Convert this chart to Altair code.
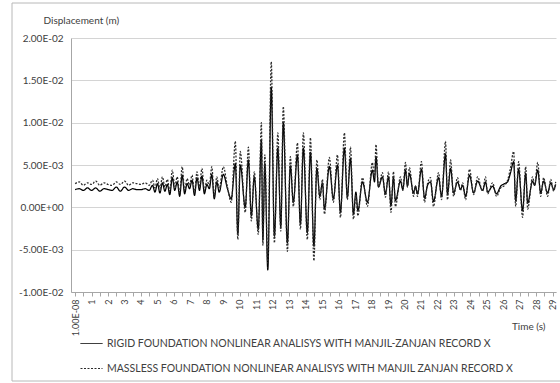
import altair as alt
import pandas as pd

# Time samples (s) shared by both records
time_s = [
    0.00, 0.25, 0.50, 0.75, 1.00, 1.25, 1.50, 1.75, 2.00, 2.25, 2.50, 2.75, 3.00, 3.25, 3.50, 3.75, 4.00, 4.25, 4.50,
    4.70, 4.85, 5.00, 5.15, 5.30, 5.45, 5.60, 5.75, 5.90, 6.05, 6.20, 6.35, 6.50, 6.65, 6.80, 6.95, 7.10, 7.25,
    7.40, 7.55, 7.70, 7.85, 8.00, 8.15, 8.30, 8.45, 8.60, 8.75,
    9.00, 9.25, 9.48, 9.73, 9.88, 10.03, 10.33, 10.52, 10.70, 10.88, 11.12, 11.31, 11.40, 11.52, 11.70, 11.91,
    12.10, 12.31, 12.49, 12.64, 12.89, 13.07, 13.25, 13.50, 13.68, 13.86, 14.10, 14.29, 14.50, 14.68, 14.86,
    15.02, 15.14, 15.44, 15.68, 15.93, 16.11, 16.35, 16.53, 16.72, 16.90, 17.05, 17.17, 17.45, 17.75, 18.05,
    18.18, 18.27, 18.42, 18.66, 18.84, 19.03, 19.18, 19.33, 19.45, 19.76, 19.90, 20.06, 20.18, 20.30, 20.55,
    20.67, 20.79, 21.03, 21.22, 21.40, 21.58, 21.76, 22.07, 22.25, 22.49, 22.61, 22.80, 22.98, 23.22, 23.40,
    23.53, 23.71, 23.95, 24.20, 24.44, 24.74, 24.92, 25.05, 25.35, 25.59, 25.84, 26.08, 26.26, 26.44, 26.63,
    26.75, 26.93, 27.17, 27.36, 27.48, 27.78, 27.90, 28.09, 28.27, 28.45, 28.69, 28.88, 29.06, 29.18,
]

# Displacement in millimetres (x 1e-3 m)
rigid_mm = [
    2.1, 2.2, 2.0, 2.3, 2.0, 2.3, 1.9, 2.2, 2.1, 2.0, 2.4, 1.9, 2.4, 2.0, 2.2, 2.1, 2.1, 2.2, 2.0,
    2.6, 1.8, 2.8, 1.7, 2.9, 1.9, 2.7, 1.5, 3.5, 2.0, 3.0, 1.3, 3.8, 1.6, 2.8, 2.2, 3.2, 1.4,
    3.5, 2.0, 3.7, 1.6, 2.7, 2.2, 3.9, 1.0, 3.0, 1.8,
    3.9, 2.2, 1.0, 5.2, -3.2, 5.0, 0.0, 5.6, -1.0, 3.6, -2.6, 8.0, -3.8, 5.2, -7.4, 14.2,
    -3.4, 7.0, -2.3, 10.0, -4.2, 4.9, 0.6, 6.2, -2.0, 7.0, -3.0, 6.5, -4.6, 4.6, 1.3,
    2.9, -0.2, 4.8, 1.0, 5.0, -0.6, 7.0, 1.2, 5.8, -0.8, 1.8, -0.4, 3.0, 0.6, 4.4,
    3.0, 6.0, 2.4, 3.6, 1.6, 3.6, 0.2, 3.5, 0.8, 3.1, 2.1, 4.4, 2.5, 4.0, 1.7,
    2.5, 1.6, 4.5, 1.1, 2.6, 3.0, 0.7, 3.5, 1.3, 6.3, 1.6, 4.6, 1.7, 3.0, 2.1,
    2.6, 1.3, 3.8, 1.7, 3.1, 2.0, 3.0, 1.8, 2.5, 1.6, 2.5, 2.8, 3.0, 4.1, 5.4,
    0.8, 4.5, -0.4, 4.0, 0.5, 3.1, 2.6, 4.4, 1.7, 3.1, 1.7, 2.9, 2.1, 2.7,
]

massless_mm = [
    2.8, 3.0, 2.6, 2.9, 2.7, 3.1, 2.6, 2.9, 2.7, 2.6, 3.0, 2.7, 3.1, 2.6, 2.9, 2.8, 2.7, 2.9, 2.6,
    3.2, 2.3, 3.4, 2.2, 3.6, 2.4, 3.3, 1.9, 4.4, 2.5, 3.6, 1.6, 4.8, 2.0, 3.4, 2.6, 3.8, 1.7,
    4.2, 2.4, 4.6, 2.0, 3.2, 2.6, 4.8, 1.2, 3.6, 2.2,
    4.8, 2.4, 0.6, 7.8, -3.8, 6.6, -0.6, 7.1, -1.6, 4.2, -3.2, 10.0, -4.5, 6.2, -6.6, 17.2,
    -4.2, 8.8, -2.8, 11.9, -5.2, 6.0, 0.1, 7.6, -2.6, 8.8, -3.8, 8.2, -6.3, 5.6, 0.9,
    3.3, -0.8, 5.9, 0.6, 6.2, -1.2, 8.8, 0.9, 7.1, -1.4, 1.5, -1.0, 3.5, 0.1, 5.3,
    3.5, 7.4, 2.4, 4.1, 1.2, 4.2, -0.6, 4.2, 0.1, 3.6, 2.0, 5.3, 2.4, 4.7, 1.3,
    2.5, 1.3, 5.4, 0.6, 2.8, 3.5, 0.1, 4.1, 0.9, 7.8, 0.9, 5.6, 1.3, 3.5, 2.0,
    2.9, 0.9, 4.5, 1.5, 3.6, 1.9, 3.6, 1.6, 2.9, 1.3, 2.3, 2.6, 3.2, 4.7, 6.6,
    0.1, 5.4, -1.2, 4.8, -0.2, 3.6, 2.6, 5.3, 1.3, 3.5, 1.3, 3.3, 1.9, 3.0,
]

series_names = [
    "RIGID FOUNDATION NONLINEAR ANALISYS WITH MANJIL-ZANJAN RECORD X",
    "MASSLESS FOUNDATION NONLINEAR ANALISYS WITH MANJIL ZANJAN RECORD X",
]

y_tick_values = [-0.01, -0.005, 0.0, 0.005, 0.01, 0.015, 0.02]
y_tick_labels = ["-1.00E-02", "-5.00E-03", "0.00E+00", "5.00E-03", "1.00E-02", "1.50E-02", "2.00E-02"]

x_tick_values = [i * 0.5 for i in range(59)]  # tick every half second, label every second
first_time_label = "1.00E-08"

assert len(time_s) == len(rigid_mm) == len(massless_mm)

rows = []
for name, values in zip(series_names, [rigid_mm, massless_mm]):
    for t, v in zip(time_s, values):
        rows.append({"t": t, "disp": v / 1000.0, "series": name})
df = pd.DataFrame(rows)

# Excel-style scientific labels for the displacement axis
y_expr = "''"
for val, lab in zip(y_tick_values, y_tick_labels):
    y_expr = f"abs(datum.value - ({val})) < 1e-9 ? '{lab}' : ({y_expr})"

x_expr = (
    f"datum.value == 0 ? '{first_time_label}' : "
    "(datum.value % 1 == 0 ? format(datum.value, 'd') : '')"
)

FONT = "Lato"
TEXT = "#404040"
AXIS_GRAY = "#a6a6a6"

lines = alt.Chart(df).mark_line(strokeWidth=1.25, interpolate="monotone").encode(
    x=alt.X(
        "t:Q",
        scale=alt.Scale(domain=[-0.25, 29.2], nice=False, zero=False),
        axis=alt.Axis(
            values=x_tick_values,
            labelExpr=x_expr,
            labelAngle=-90,
            labelOverlap=False,
            labelFlush=False,
            labelFontSize=9,
            labelPadding=3,
            tickSize=4,
            tickColor=AXIS_GRAY,
            domainColor=AXIS_GRAY,
            grid=False,
            title="Time (s)",
            titleFontWeight="normal",
            titleFontSize=10,
            titleAlign="right",
            titleBaseline="middle",
            titleX=474,
            titleY=34,
        ),
    ),
    y=alt.Y(
        "disp:Q",
        scale=alt.Scale(domain=[-0.01, 0.02], nice=False, zero=False),
        axis=alt.Axis(
            values=y_tick_values,
            labelExpr=y_expr,
            labelFontSize=10,
            labelPadding=8,
            ticks=False,
            domainColor=AXIS_GRAY,
            gridColor="#d4d4d4",
            title="Displacement (m)",
            titleFontWeight="normal",
            titleFontSize=10,
            titleAngle=0,
            titleAlign="left",
            titleBaseline="middle",
            titleX=-28,
            titleY=-18,
        ),
    ),
    color=alt.Color(
        "series:N",
        scale=alt.Scale(domain=series_names, range=["#000000", "#2a2a2a"]),
        title=None,
    ),
    strokeDash=alt.StrokeDash(
        "series:N",
        scale=alt.Scale(domain=series_names, range=[[1, 0], [2, 1.5]]),
        title=None,
    ),
)

# Outer chart-area frame
frame = alt.Chart(pd.DataFrame({"k": [0]})).mark_rect(
    filled=False, stroke="#b8b8b8", strokeWidth=1
).encode(
    x=alt.value(-59), x2=alt.value(494), y=alt.value(-35), y2=alt.value(343)
)

chart = alt.layer(frame, lines).properties(
    width=485,
    height=254,
    autosize=alt.AutoSizeParams(type="none"),
    padding={"left": 71, "top": 38, "right": 4, "bottom": 91},
).configure(
    font=FONT,
    background="white",
).configure_view(
    stroke=None,
).configure_axis(
    labelFont=FONT,
    titleFont=FONT,
    labelColor=TEXT,
    titleColor=TEXT,
).configure_legend(
    orient="none",
    legendX=9,
    legendY=294,
    direction="vertical",
    symbolType="stroke",
    symbolSize=484,
    symbolStrokeWidth=1,
    labelFont=FONT,
    labelFontSize=10.5,
    labelColor=TEXT,
    labelLimit=0,
    labelOffset=4,
    rowPadding=8,
    padding=0,
)

chart.save("out.html", embed_options={"renderer": "svg", "actions": False})
